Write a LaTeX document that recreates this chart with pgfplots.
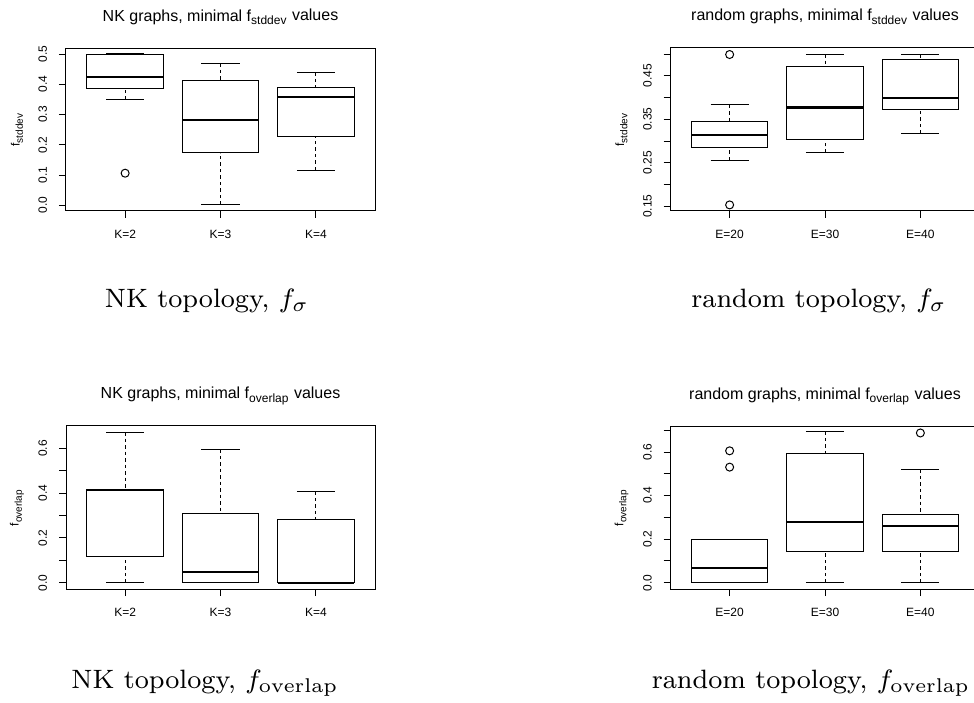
\documentclass[border=0pt]{standalone}
\usepackage{fontspec}
\newfontfamily\rfont{Liberation Sans}
\usepackage{pgfplots}
\pgfplotsset{compat=1.18}
\usepgfplotslibrary{statistics}

\pgfplotsset{
  rpanel/.style={
    scale only axis, width=154.5pt, height=81.5pt, anchor=south west,
    xmin=0.38, xmax=3.62, xtick={1,2,3},
    axis line style={black, line width=0.5pt},
    tick align=outside, major tick length=3.5pt,
    xtick pos=bottom, ytick pos=left,
    tick style={black, line width=0.5pt},
    ticklabel style={font=\rfont\fontsize{6}{7}\selectfont},
    xticklabel style={anchor=base, yshift=-10.35pt},
    yticklabel style={xshift=-6pt, rotate=90, anchor=base},
    every axis title/.style={at={(axis description cs:0.5,1)}, anchor=base,
      yshift=13.5pt, font=\rfont\fontsize{8}{9.6}\selectfont},
    every axis y label/.style={at={(axis description cs:0,0.5)}, xshift=-24.5pt,
      rotate=90, anchor=center, font=\rfont\fontsize{6}{7}\selectfont},
    boxplot/draw direction=y,
    boxplot/box extend=0.8,
    boxplot/whisker extend=0.4,
    boxplot/every box/.style={draw=black, line width=0.5pt},
    boxplot/every median/.style={draw=black, line width=1.1pt},
    boxplot/draw/lower whisker/.code={
      \draw[black, line width=0.5pt, dash pattern=on 1.75pt off 1.5pt]
        (boxplot box cs:\pgfplotsboxplotvalue{lower whisker},0.5) --
        (boxplot box cs:\pgfplotsboxplotvalue{lower quartile},0.5);
      \draw[black, line width=0.5pt, solid]
        (boxplot whisker cs:\pgfplotsboxplotvalue{lower whisker},0) --
        (boxplot whisker cs:\pgfplotsboxplotvalue{lower whisker},1);
    },
    boxplot/draw/upper whisker/.code={
      \draw[black, line width=0.5pt, dash pattern=on 1.75pt off 1.5pt]
        (boxplot box cs:\pgfplotsboxplotvalue{upper whisker},0.5) --
        (boxplot box cs:\pgfplotsboxplotvalue{upper quartile},0.5);
      \draw[black, line width=0.5pt, solid]
        (boxplot whisker cs:\pgfplotsboxplotvalue{upper whisker},0) --
        (boxplot whisker cs:\pgfplotsboxplotvalue{upper whisker},1);
    },
  },
  rbox/.style={black, line width=0.5pt, mark=o, mark size=2pt, mark options={solid}},
}

\begin{document}
\begin{tikzpicture}
\useasboundingbox (0,0) rectangle (487pt,351pt);
\clip (0,0) rectangle (487pt,351pt);

% NK graphs, f_stddev
\begin{axis}[rpanel, at={(33pt,245.5pt)},
  ymin=-0.019, ymax=0.520,
  ytick={0,0.1,0.2,0.3,0.4,0.5}, yticklabels={0.0,0.1,0.2,0.3,0.4,0.5},
  xticklabels={K=2,K=3,K=4},
  title={NK graphs, minimal f\textsubscript{stddev} values},
  ylabel={f\textsubscript{stddev}}]
  \addplot[rbox, boxplot prepared={draw position=1, lower whisker=0.349,
    lower quartile=0.387, median=0.425, upper quartile=0.499, upper whisker=0.502}]
    coordinates {(0,0.106)};
  \addplot[rbox, boxplot prepared={draw position=2, lower whisker=0.002,
    lower quartile=0.174, median=0.283, upper quartile=0.413, upper whisker=0.469}]
    coordinates {};
  \addplot[rbox, boxplot prepared={draw position=3, lower whisker=0.116,
    lower quartile=0.226, median=0.357, upper quartile=0.389, upper whisker=0.439}]
    coordinates {};
\end{axis}

% random graphs, f_stddev
\begin{axis}[rpanel, at={(335.25pt,245.5pt)},
  ymin=0.139, ymax=0.514,
  ytick={0.15,0.2,0.25,0.3,0.35,0.4,0.45,0.5},
  yticklabels={0.15,,0.25,,0.35,,0.45,},
  xticklabels={E=20,E=30,E=40},
  title={random graphs, minimal f\textsubscript{stddev} values},
  ylabel={f\textsubscript{stddev}}]
  \addplot[rbox, boxplot prepared={draw position=1, lower whisker=0.256,
    lower quartile=0.285, median=0.314, upper quartile=0.344, upper whisker=0.383}]
    coordinates {(0,0.499) (0,0.153)};
  \addplot[rbox, boxplot prepared={draw position=2, lower whisker=0.273,
    lower quartile=0.304, median=0.377, upper quartile=0.471, upper whisker=0.500}]
    coordinates {};
  \addplot[rbox, boxplot prepared={draw position=3, lower whisker=0.317,
    lower quartile=0.372, median=0.399, upper quartile=0.488, upper whisker=0.500}]
    coordinates {};
\end{axis}

% NK graphs, f_overlap
\begin{axis}[rpanel, at={(33pt,56.5pt)},
  ymin=-0.028, ymax=0.700,
  ytick={0,0.1,0.2,0.3,0.4,0.5,0.6}, yticklabels={0.0,,0.2,,0.4,,0.6},
  xticklabels={K=2,K=3,K=4},
  title={NK graphs, minimal f\textsubscript{overlap} values},
  ylabel={f\textsubscript{overlap}}]
  \addplot[rbox, boxplot prepared={draw position=1, lower whisker=0,
    lower quartile=0.119, median=0.415, upper quartile=0.418, upper whisker=0.673}]
    coordinates {};
  \addplot[rbox, boxplot prepared={draw position=2, lower whisker=0,
    lower quartile=0, median=0.049, upper quartile=0.308, upper whisker=0.597}]
    coordinates {};
  \addplot[rbox, boxplot prepared={draw position=3, lower whisker=0,
    lower quartile=0, median=0, upper quartile=0.283, upper whisker=0.408}]
    coordinates {};
\end{axis}

% random graphs, f_overlap
\begin{axis}[rpanel, at={(335.25pt,56.5pt)},
  ymin=-0.029, ymax=0.720,
  ytick={0,0.1,0.2,0.3,0.4,0.5,0.6,0.7}, yticklabels={0.0,,0.2,,0.4,,0.6,},
  xticklabels={E=20,E=30,E=40},
  title={random graphs, minimal f\textsubscript{overlap} values},
  ylabel={f\textsubscript{overlap}}]
  \addplot[rbox, boxplot prepared={draw position=1, lower whisker=0,
    lower quartile=0, median=0.069, upper quartile=0.197, upper whisker=0.197}]
    coordinates {(0,0.606) (0,0.531)};
  \addplot[rbox, boxplot prepared={draw position=2, lower whisker=0,
    lower quartile=0.142, median=0.278, upper quartile=0.592, upper whisker=0.695}]
    coordinates {};
  \addplot[rbox, boxplot prepared={draw position=3, lower whisker=0,
    lower quartile=0.142, median=0.260, upper quartile=0.314, upper whisker=0.522}]
    coordinates {(0,0.688)};
\end{axis}

% subfigure captions
\node[scale=1.66, anchor=base] at (103.5pt,197pt) {\fontsize{8}{10}\selectfont NK topology, $f_\sigma$};
\node[scale=1.66, anchor=base] at (409.5pt,197pt) {\fontsize{8}{10}\selectfont random topology, $f_\sigma$};
\node[scale=1.66, anchor=base] at (102.5pt,7pt) {\fontsize{8}{10}\selectfont NK topology, $f_{\mathrm{overlap}}$};
\node[scale=1.66, anchor=base] at (405.5pt,7pt) {\fontsize{8}{10}\selectfont random topology, $f_{\mathrm{overlap}}$};
\end{tikzpicture}
\end{document}
